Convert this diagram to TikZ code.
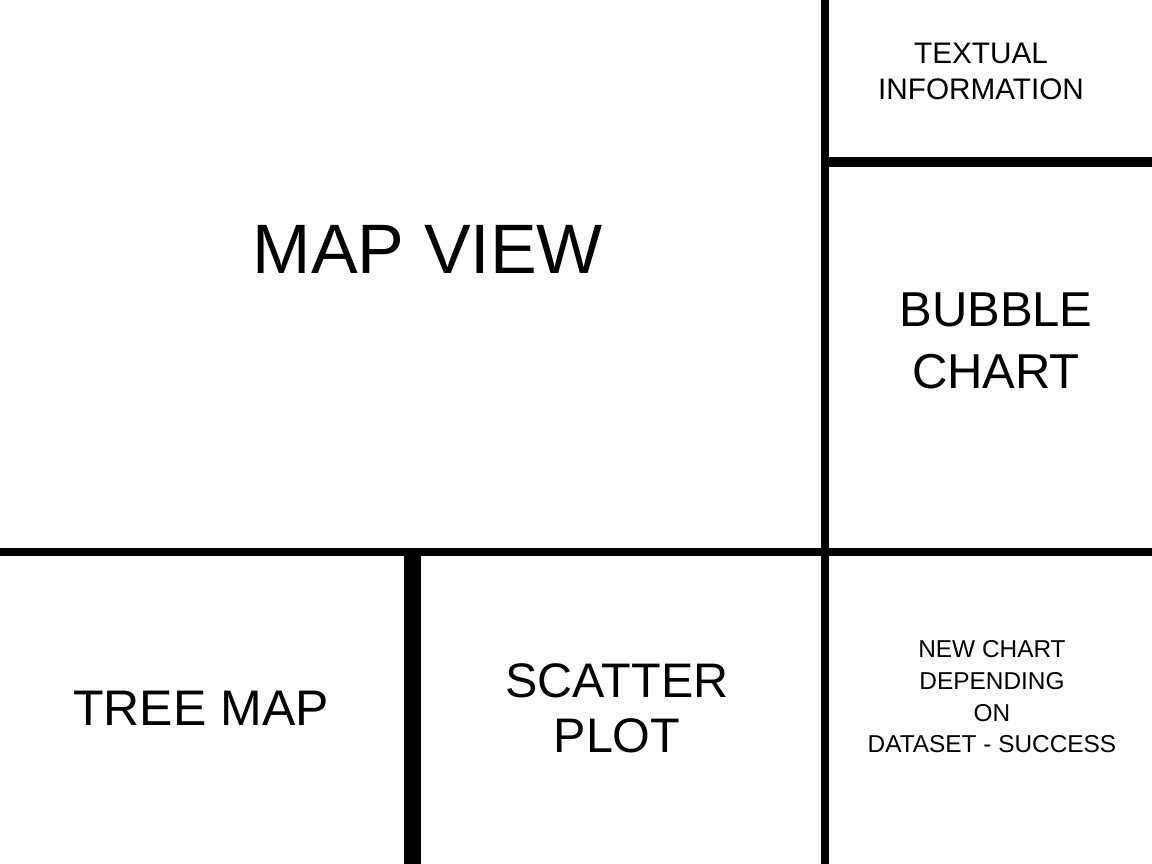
\documentclass[tikz,border=0pt]{standalone}
\usepackage{fontspec}
\setmainfont{Liberation Sans}
\usepackage{tikz}
\usetikzlibrary{positioning}

\begin{document}
\begin{tikzpicture}[
  x=1pt, y=-1pt,
  divider/.style={draw=black, line width=8pt},
  lbl/.style={align=center, inner sep=0pt, text=black},
]
\useasboundingbox[fill=white] (0,0) rectangle (1152,864);
% panel borders
\draw[divider] (825,0) -- (825,864);
\draw[divider] (0,552) -- (1152,552);
\draw[divider, line width=10pt] (825,162) -- (1152,162);
\draw[divider, line width=17pt] (412.5,552) -- (412.5,864);
% panel titles
\node[lbl, font=\fontsize{70}{84}\selectfont] (map) at (428,249) {MAP VIEW};
\node[lbl, font=\fontsize{29.7}{36}\selectfont] (text) at (981,71) {TEXTUAL\\INFORMATION};
\node[lbl, font=\fontsize{49}{61.5}\selectfont] (bubble) at (996,341) {BUBBLE\\CHART};
\node[lbl, font=\fontsize{50}{58}\selectfont] (tree) at (201,708) {TREE MAP};
\node[lbl, font=\fontsize{48.5}{55}\selectfont] (scatter) at (617,708) {SCATTER\\PLOT};
\node[lbl, font=\fontsize{24.4}{31.7}\selectfont] (newchart) at (992,697) {NEW CHART\\DEPENDING\\ON\\DATASET - SUCCESS};
\end{tikzpicture}
\end{document}
